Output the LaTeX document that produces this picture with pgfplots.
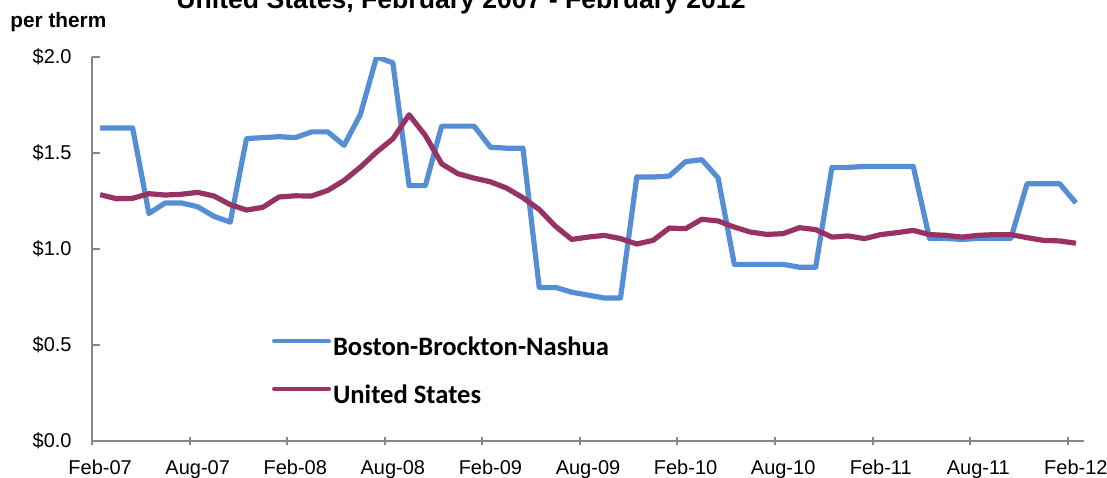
\documentclass[border=0pt]{standalone}
\usepackage{pgfplots}
\pgfplotsset{compat=1.18}
\usepackage{fontspec}
\setmainfont{Liberation Sans}
\newfontfamily\legfont{Carlito}
\definecolor{bostonblue}{RGB}{85,142,213}
\definecolor{usmaroon}{RGB}{150,50,100}
\definecolor{axgray}{RGB}{134,134,134}
\begin{document}
\begin{tikzpicture}
\begin{axis}[
  name=ax,
  scale only axis,
  width=496pt, height=192pt,
  xmin=-0.5, xmax=60.5,
  ymin=0, ymax=2,
  axis x line*=bottom, axis y line*=left,
  axis line style={draw=axgray, line width=1pt},
  xtick={-0.5,5.5,...,59.5},
  xticklabels={Feb-07,Aug-07,Feb-08,Aug-08,Feb-09,Aug-09,Feb-10,Aug-10,Feb-11,Aug-11,Feb-12},
  ytick={0,0.5,1,1.5,2},
  yticklabels={\$0.0,\$0.5,\$1.0,\$1.5,\$2.0},
  tick align=inside,
  major tick length=4pt,
  tick style={draw=axgray, line width=1pt},
  xtick style={yshift=-2pt},
  xticklabel style={anchor=base, inner sep=0pt, yshift=-16.5pt, xshift=4.07pt, font=\fontsize{10}{12}\selectfont},
  yticklabel style={anchor=east, inner sep=0pt, xshift=-10pt, font=\fontsize{10}{12}\selectfont},
  legend cell align=left,
  legend style={draw=none, fill=none, inner sep=0pt, outer sep=0pt,
    at={(0.1815,0.18)}, anchor=west,
    font=\legfont\bfseries\fontsize{13.3}{16}\selectfont,
    row sep=13pt,
    nodes={inner sep=0pt}},
  legend image code/.code={\draw[#1, line width=2pt, line cap=round] (0pt,3.5pt) -- (27.5pt,3.5pt);},
  /tikz/every odd column/.append style={column sep=1pt},
]
\addplot[bostonblue, line width=2.6pt, line join=round] coordinates {
(0,1.63) (1,1.63) (2,1.63) (3,1.185) (4,1.24) (5,1.24) (6,1.22) (7,1.17) (8,1.14) (9,1.575)
(10,1.58) (11,1.585) (12,1.58) (13,1.61) (14,1.61) (15,1.54) (16,1.70) (17,2.00) (18,1.97) (19,1.33)
(20,1.33) (21,1.64) (22,1.64) (23,1.64) (24,1.53) (25,1.525) (26,1.525) (27,0.80) (28,0.80) (29,0.775)
(30,0.76) (31,0.745) (32,0.745) (33,1.375) (34,1.375) (35,1.38) (36,1.455) (37,1.465) (38,1.37) (39,0.92)
(40,0.92) (41,0.92) (42,0.92) (43,0.905) (44,0.905) (45,1.425) (46,1.425) (47,1.43) (48,1.43) (49,1.43)
(50,1.43) (51,1.055) (52,1.055) (53,1.05) (54,1.055) (55,1.055) (56,1.055) (57,1.34) (58,1.34) (59,1.34)
(60,1.24)
};
\addlegendentry{Boston-Brockton-Nashua}
\addplot[usmaroon, line width=2.6pt, line join=round] coordinates {
(0,1.283) (1,1.262) (2,1.264) (3,1.288) (4,1.281) (5,1.285) (6,1.295) (7,1.276) (8,1.231) (9,1.203)
(10,1.217) (11,1.271) (12,1.277) (13,1.276) (14,1.305) (15,1.357) (16,1.426) (17,1.505) (18,1.574) (19,1.699)
(20,1.591) (21,1.444) (22,1.392) (23,1.369) (24,1.350) (25,1.317) (26,1.267) (27,1.206) (28,1.118) (29,1.050)
(30,1.062) (31,1.071) (32,1.054) (33,1.026) (34,1.045) (35,1.109) (36,1.106) (37,1.155) (38,1.146) (39,1.114)
(40,1.088) (41,1.076) (42,1.080) (43,1.111) (44,1.101) (45,1.062) (46,1.068) (47,1.054) (48,1.075) (49,1.085)
(50,1.097) (51,1.075) (52,1.071) (53,1.062) (54,1.071) (55,1.075) (56,1.075) (57,1.059) (58,1.045) (59,1.042)
(60,1.030)
};
\addlegendentry{United States}
\end{axis}
\node[anchor=base, inner sep=0pt, font=\bfseries\fontsize{13.3}{16}\selectfont] at ([xshift=184.5pt, yshift=216.25pt]ax.south west) {United States, February 2007 - February 2012};
\node[anchor=base west, inner sep=0pt, font=\bfseries\fontsize{10.4}{12}\selectfont] at ([xshift=-41pt,yshift=206.5pt]ax.south west) {per therm};
\pgfresetboundingbox
\useasboundingbox ([xshift=-46pt,yshift=-18pt]ax.south west) rectangle ([xshift=507.5pt,yshift=220.5pt]ax.south west);
\end{tikzpicture}
\end{document}
